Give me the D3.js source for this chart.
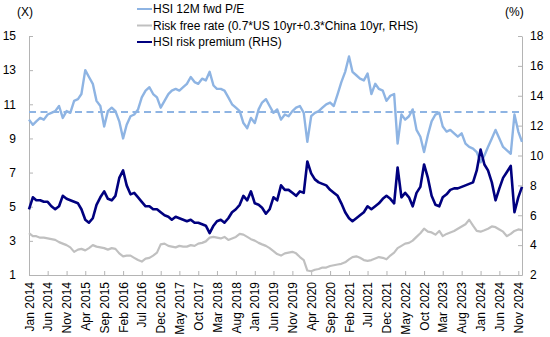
<!DOCTYPE html>
<html lang="en">
<head>
    <meta charset="UTF-8">
    <title>HSI P/E and risk premium</title>
    <script src="https://cdnjs.cloudflare.com/ajax/libs/d3/7.8.5/d3.min.js"></script>
    <style>
        body {
            margin: 0;
            background: #fff;
            font-family: "Liberation Sans", Arial, sans-serif;
        }
        .axis path, .axis line {
            stroke: #b4b4b4;
        }
        .axis text {
            font-size: 12px;
            fill: #000;
        }
        .legend text, .unit {
            font-size: 12px;
            fill: #000;
        }
    </style>
</head>
<body>
    <div id="chart"></div>

    <script>
        // Monthly readings, Jan 2014 .. Dec 2024
        const firstMonth = new Date(2014, 0, 1);

        const peFwd = [
            10.1, 9.8, 10.0, 10.2, 10.1, 10.4, 10.5, 10.6, 10.9, 10.2, 10.6, 10.5,
            11.2, 11.3, 11.6, 13.0, 12.6, 12.2, 11.2, 10.9, 9.7, 10.6, 10.8, 10.6,
            10.0, 9.0, 9.8, 10.3, 10.4, 10.7, 11.4, 11.8, 12.0, 11.6, 11.4, 10.8,
            11.2, 11.6, 11.8, 11.9, 11.8, 12.0, 12.2, 12.6, 12.3, 12.2, 12.5, 12.4,
            12.9, 12.1, 11.9, 11.9, 11.8, 11.4, 11.0, 10.8, 10.6, 9.9, 9.6, 10.2,
            9.9, 10.7, 11.1, 11.3, 10.9, 10.5, 10.7, 10.1, 10.4, 10.3, 10.6, 10.8,
            10.9, 10.5, 8.8, 10.3, 10.5, 10.6, 10.8, 11.0, 11.1, 10.9, 11.6, 12.3,
            12.9, 13.8, 12.9, 12.7, 12.5, 12.4, 12.8, 11.6, 12.2, 11.9, 11.8, 11.2,
            11.5, 11.6, 8.7, 10.4, 10.1, 10.3, 10.7, 9.5, 9.1, 8.2, 9.2, 10.0,
            10.4, 10.5, 9.7, 9.4, 9.5, 9.3, 9.1, 9.3, 8.7, 8.5, 8.4, 8.2,
            7.6, 8.0, 8.5, 9.0, 9.5, 9.0, 8.5, 8.3, 8.1, 10.4, 9.4, 8.8
        ];

        const riskFree = [
            4.8, 4.6, 4.6, 4.5, 4.5, 4.45, 4.4, 4.35, 4.2, 4.1, 4.0, 3.85,
            3.55, 3.7, 3.75, 3.65, 3.8, 4.0, 3.9, 3.85, 3.8, 3.7, 3.8, 3.75,
            3.45, 3.25, 3.3, 3.3, 3.15, 3.0, 2.9, 3.1, 3.15, 3.3, 3.5, 4.05,
            4.1, 3.95, 3.9, 3.85, 3.95, 3.9, 3.9, 4.0, 3.95, 4.1, 4.15, 4.25,
            4.5, 4.55, 4.5, 4.45, 4.55, 4.35, 4.45, 4.55, 4.75, 4.7, 4.55, 4.4,
            4.3, 4.15, 4.05, 3.95, 3.8, 3.6, 3.4, 3.3, 3.45, 3.5, 3.55, 3.45,
            3.2, 3.0, 2.3, 2.25, 2.35, 2.4, 2.5, 2.5, 2.6, 2.65, 2.7, 2.75,
            2.85, 3.05, 3.2, 3.25, 3.15, 3.0, 2.95, 3.0, 3.1, 3.2, 3.15, 3.05,
            3.3, 3.5, 3.8, 3.95, 4.1, 4.15, 4.3, 4.55, 4.8, 5.1, 4.9, 4.85,
            4.7, 4.95, 4.6, 4.75, 4.85, 4.95, 5.1, 5.25, 5.4, 5.7, 5.3, 4.95,
            4.9, 5.0, 5.1, 5.25, 5.2, 5.05, 4.9, 4.6, 4.75, 4.95, 5.05, 5.0
        ];

        const riskPremium = [
            6.4, 7.2, 7.0, 7.0, 6.9, 6.9, 6.6, 6.4, 6.6, 7.3, 7.1, 7.0,
            6.9, 6.8, 6.4, 5.7, 5.5, 5.8, 6.7, 7.2, 7.6, 7.1, 7.0, 7.3,
            8.5, 9.0, 8.0, 7.4, 7.5, 7.2, 6.9, 6.6, 6.6, 6.4, 6.4, 6.2,
            6.0, 5.9, 5.7, 5.9, 5.8, 5.7, 5.6, 5.7, 5.5, 5.5, 5.4, 5.3,
            4.8, 5.3, 5.6, 5.7, 5.5, 5.8, 6.2, 6.4, 6.7, 7.3, 7.0, 7.6,
            6.8, 6.7, 6.5, 6.1, 6.4, 7.2, 7.0, 8.0, 7.7, 7.7, 7.5, 7.3,
            7.6, 7.5, 9.6, 8.8, 8.4, 8.2, 8.1, 8.0, 7.7, 7.5, 7.3, 6.8,
            6.2, 5.8, 5.6, 5.8, 6.0, 6.2, 6.6, 6.4, 6.6, 6.8, 7.1, 7.3,
            7.1, 6.8, 9.2, 7.2, 7.5, 7.2, 6.6, 7.5, 7.9, 9.4, 8.5, 7.3,
            6.7, 6.6, 7.2, 7.4, 7.7, 7.8, 7.8, 7.9, 8.0, 8.1, 8.2, 9.0,
            10.4, 9.4, 9.0, 8.2, 7.0, 7.8, 8.5, 8.9, 9.3, 6.2, 7.2, 7.9
        ];

        const peAverage = 10.55;

        const leftTicks = [1, 3, 5, 7, 9, 11, 13, 15];
        const rightTicks = [2, 4, 6, 8, 10, 12, 14, 16, 18];
        const xTickLabels = [
            "2014-01", "2014-06", "2014-11", "2015-04", "2015-09", "2016-02", "2016-07",
            "2016-12", "2017-05", "2017-10", "2018-03", "2018-08", "2019-01", "2019-06",
            "2019-11", "2020-04", "2020-09", "2021-02", "2021-07", "2021-12", "2022-05",
            "2022-10", "2023-03", "2023-08", "2024-01", "2024-06", "2024-11"
        ];

        const legendItems = [
            { label: "HSI 12M fwd P/E", color: "#8eb4e3" },
            { label: "Risk free rate (0.7*US 10yr+0.3*China 10yr, RHS)", color: "#c0c0c0" },
            { label: "HSI risk premium (RHS)", color: "#00007f" }
        ];

        // Layout
        const width = 550, height = 337;
        const margin = { top: 36, right: 28, bottom: 62, left: 29 };
        const innerW = width - margin.left - margin.right;
        const innerH = height - margin.top - margin.bottom;

        const parseMonth = d3.timeParse("%Y-%m");
        const months = peFwd.map((_, i) => d3.timeMonth.offset(firstMonth, i));

        const svg = d3.select("#chart")
            .append("svg")
            .attr("width", width)
            .attr("height", height);

        const g = svg.append("g")
            .attr("transform", `translate(${margin.left},${margin.top})`);

        const x = d3.scaleTime()
            .domain([months[0], months[months.length - 1]])
            .range([0, innerW]);
        const yL = d3.scaleLinear().domain([1, 15]).range([innerH, 0]);
        const yR = d3.scaleLinear().domain([2, 18]).range([innerH, 0]);

        // Axes
        const xAxis = g.append("g")
            .attr("class", "axis")
            .attr("transform", `translate(0,${innerH})`)
            .call(d3.axisBottom(x)
                .tickValues(xTickLabels.map(parseMonth))
                .tickSizeInner(-4)
                .tickSizeOuter(0)
                .tickFormat(d3.timeFormat("%b %Y")));
        xAxis.selectAll("text")
            .attr("transform", "rotate(-90)")
            .attr("text-anchor", "end")
            .attr("x", -7)
            .attr("y", 0)
            .attr("dy", "0.35em");

        g.append("g")
            .attr("class", "axis")
            .call(d3.axisLeft(yL)
                .tickValues(leftTicks)
                .tickSizeInner(-4)
                .tickSizeOuter(0)
                .tickPadding(13));

        g.append("g")
            .attr("class", "axis")
            .attr("transform", `translate(${innerW},0)`)
            .call(d3.axisRight(yR)
                .tickValues(rightTicks)
                .tickSizeInner(-4)
                .tickSizeOuter(0)
                .tickPadding(8));

        // Lines
        const lineL = d3.line()
            .x((d, i) => x(months[i]))
            .y(d => yL(d));
        const lineR = d3.line()
            .x((d, i) => x(months[i]))
            .y(d => yR(d));

        g.append("path")
            .datum(riskFree)
            .attr("fill", "none")
            .attr("stroke", "#c0c0c0")
            .attr("stroke-width", 2.2)
            .attr("stroke-linejoin", "round")
            .attr("d", lineR);

        g.append("line")
            .attr("x1", 0)
            .attr("x2", innerW)
            .attr("y1", yL(peAverage))
            .attr("y2", yL(peAverage))
            .attr("stroke", "#8eb4e3")
            .attr("stroke-width", 2)
            .attr("stroke-dasharray", "7,4.5");

        g.append("path")
            .datum(peFwd)
            .attr("fill", "none")
            .attr("stroke", "#8eb4e3")
            .attr("stroke-width", 2.4)
            .attr("stroke-linejoin", "round")
            .attr("d", lineL);

        g.append("path")
            .datum(riskPremium)
            .attr("fill", "none")
            .attr("stroke", "#00007f")
            .attr("stroke-width", 2.6)
            .attr("stroke-linejoin", "round")
            .attr("d", lineR);

        // Unit labels
        svg.append("text").attr("class", "unit")
            .attr("x", 17).attr("y", 16).text("(X)");
        svg.append("text").attr("class", "unit")
            .attr("x", 505).attr("y", 16).text("(%)");

        // Legend
        const legend = svg.append("g").attr("class", "legend");
        const rows = legend.selectAll("g")
            .data(legendItems)
            .enter()
            .append("g")
            .attr("transform", (d, i) => `translate(137,${9 + i * 16.5})`);
        rows.append("line")
            .attr("x1", 0).attr("x2", 15)
            .attr("stroke", d => d.color)
            .attr("stroke-width", 2);
        rows.append("text")
            .attr("x", 16)
            .attr("dy", "0.35em")
            .text(d => d.label);
    </script>
</body>
</html>
